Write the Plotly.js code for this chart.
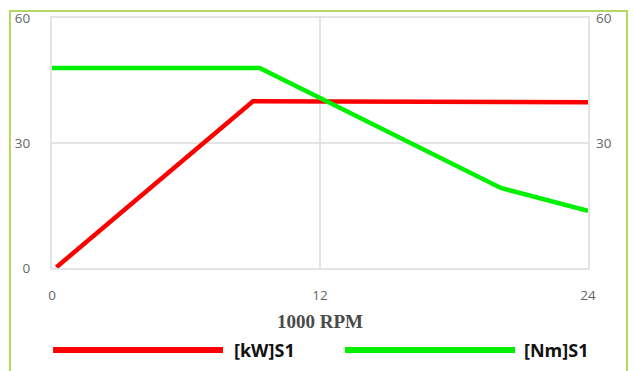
<!DOCTYPE html>
<html>
<head>
<meta charset="utf-8">
<script src="https://cdn.plot.ly/plotly-3.0.1.min.js"></script>
<style>
html,body{margin:0;padding:0;background:#fff;}
#chart{width:634px;height:371px;}
</style>
</head>
<body>
<div id="chart"></div>
<script>
// Data
const rpmKW = [0.2, 9.0, 24];
const kwS1 = [0.2, 40, 39.8];
const rpmNm = [0, 9.3, 20.1, 24];
const nmS1 = [48, 48, 19.2, 13.7];
const xTicks = [0, 12, 24];
const yTicksLeft = [0, 30, 60];
const yTicksRight = [30, 60];
const seriesNames = ['[kW]S1', '[Nm]S1'];
const xTitle = '1000 RPM';

const RED = '#ff0000';
const GREEN = '#00f000';
const GRID = '#e4e4e4';
const TICKC = '#666666';

const traces = [
  {x: rpmKW, y: kwS1, type: 'scatter', mode: 'lines', name: seriesNames[0],
   line: {color: RED, width: 4.5}, showlegend: false, hoverinfo: 'skip'},
  {x: rpmNm, y: nmS1, type: 'scatter', mode: 'lines', name: seriesNames[1],
   line: {color: GREEN, width: 4.5}, showlegend: false, hoverinfo: 'skip'},
  {x: [0], y: [0], yaxis: 'y2', type: 'scatter', mode: 'markers',
   marker: {opacity: 0}, showlegend: false, hoverinfo: 'skip'}
];

const legY = -0.328;
const tickFont = {family: 'Open Sans, sans-serif', size: 13.5, color: TICKC};
const layout = {
  width: 634, height: 371,
  margin: {l: 52, r: 46, t: 18, b: 103},
  paper_bgcolor: '#ffffff', plot_bgcolor: '#ffffff',
  showlegend: false,
  xaxis: {
    range: [0, 24], tickvals: xTicks, ticktext: xTicks.map(String),
    showgrid: true, gridcolor: GRID, gridwidth: 1.5, zeroline: false,
    showline: true, mirror: true, linecolor: GRID, linewidth: 2,
    ticks: '', ticklabelstandoff: 14,
    tickfont: tickFont,
    title: {text: xTitle, standoff: 11,
      font: {family: 'Liberation Serif, Times New Roman, serif', size: 19, color: '#4a4a4a', weight: 'bold'}}
  },
  yaxis: {
    range: [0, 60], tickvals: yTicksLeft, ticktext: yTicksLeft.map(String),
    showgrid: true, gridcolor: GRID, gridwidth: 1.5, zeroline: false,
    showline: true, mirror: true, linecolor: GRID, linewidth: 2,
    ticks: '', ticklabelstandoff: 17,
    tickfont: tickFont
  },
  yaxis2: {
    overlaying: 'y', side: 'right', range: [0, 60],
    tickvals: yTicksRight, ticktext: yTicksRight.map(String),
    showgrid: false, zeroline: false, showline: false,
    ticks: '', ticklabelstandoff: 7,
    tickfont: tickFont
  },
  shapes: [
    {type: 'rect', xref: 'paper', yref: 'paper', x0: -0.0784, x1: 1.0728, y0: -0.5, y1: 1.028,
     line: {color: '#b5d865', width: 2}, fillcolor: 'rgba(0,0,0,0)', layer: 'below'},
    {type: 'line', xref: 'paper', yref: 'paper', x0: 0.002, x1: 0.319, y0: legY, y1: legY,
     line: {color: RED, width: 6}},
    {type: 'line', xref: 'paper', yref: 'paper', x0: 0.5466, x1: 0.8638, y0: legY, y1: legY,
     line: {color: GREEN, width: 6}}
  ],
  annotations: [
    {text: seriesNames[0], xref: 'paper', yref: 'paper', x: 0.3358, y: legY,
     xanchor: 'left', yanchor: 'middle', showarrow: false,
     font: {family: 'Open Sans, sans-serif', size: 18, color: '#111', weight: 'bold'}},
    {text: seriesNames[1], xref: 'paper', yref: 'paper', x: 0.8769, y: legY,
     xanchor: 'left', yanchor: 'middle', showarrow: false,
     font: {family: 'Open Sans, sans-serif', size: 18, color: '#111', weight: 'bold'}}
  ]
};

Plotly.newPlot('chart', traces, layout, {staticPlot: true, displayModeBar: false});
</script>
</body>
</html>
